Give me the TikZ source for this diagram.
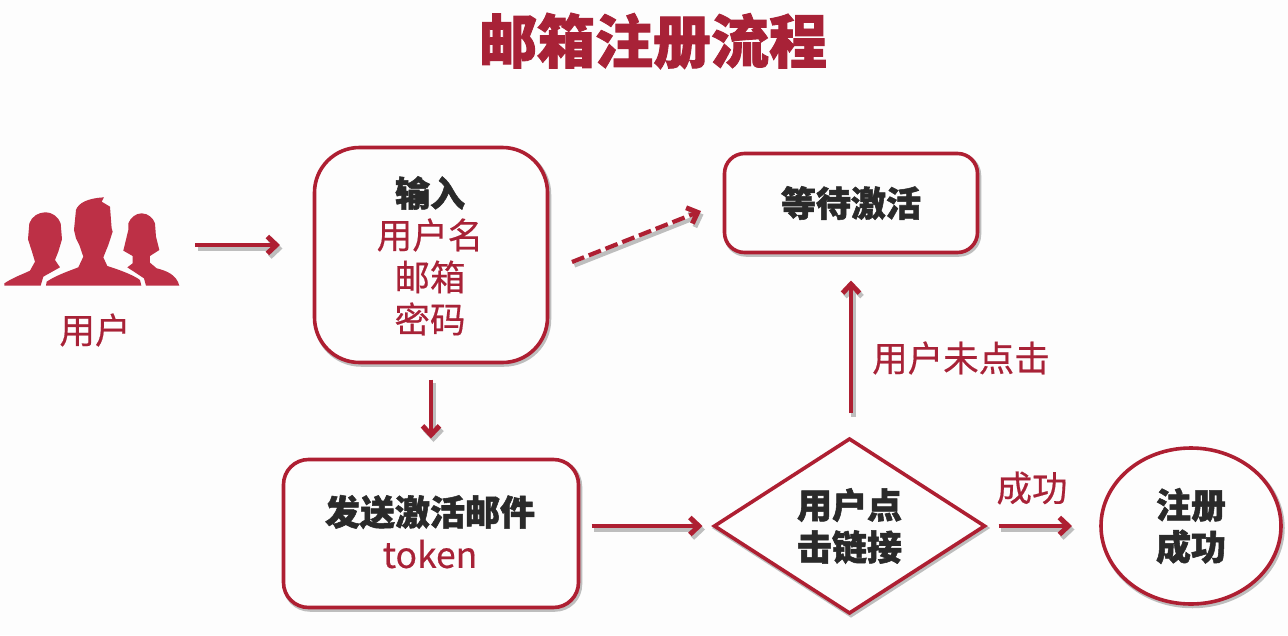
\documentclass[tikz,border=0pt]{standalone}
\usepackage{fontspec}
\setmainfont[BoldFeatures={FakeBold=1.5}]{Noto Sans CJK SC}
\newfontfamily\medfont[FakeBold=0.5]{Noto Sans CJK SC}
\usetikzlibrary{arrows.meta,shapes.geometric,calc}
\definecolor{lred}{HTML}{AE1F32}
\definecolor{tred}{HTML}{A82237}
\definecolor{ired}{HTML}{BD3046}
\definecolor{dk}{HTML}{2A2A2A}
\definecolor{bg}{HTML}{FDFDFD}
\definecolor{sh}{HTML}{BEBEBE}
\tikzset{
  x=1pt,y=-1pt,
  softedge/.style={preaction={draw=sh,line width=4.5pt,transform canvas={shift={(1.5pt,-2pt)}}}},
  boxnode/.style={draw=lred,line width=3.6pt,fill=bg,rounded corners=#1,inner sep=0pt,outer sep=0pt,align=center,softedge},
  lbl/.style={text=tred,font=\medfont\fontsize{35.5}{41}\selectfont,inner sep=0pt},
  hd/.style={text=dk,font=\fontsize{35}{42}\selectfont\bfseries},
  con/.style={draw=lred,line width=4.2pt,-{Straight Barb[length=9pt,width=17pt,line width=5pt]},
    preaction={draw=sh,line width=4.2pt,-{Straight Barb[length=9pt,width=17pt,line width=5pt]},transform canvas={shift={(2.5pt,-3.5pt)}}}},
  person/.style={fill=ired,draw=none}
}
\begin{document}
\begin{tikzpicture}
\useasboundingbox (0,0) rectangle (1288,635);
\fill[bg] (0,0) rectangle (1288,635);
\node[inner sep=0pt,text=tred,font=\fontsize{58}{60}\selectfont\bfseries] (title) at (653,41) {邮箱注册流程};
% user icon
\begin{scope}[shift={(0,180)},x=0.3333pt,y=-0.3333pt]
\path[person] (13,317) -- (13,310) .. controls (40,292) and (70,282) .. (90,272) -- (105,245) -- (96,215) -- (84,178) -- (88,130) .. controls (95,110) and (115,97) .. (135,97) .. controls (160,97) and (175,112) .. (182,130) -- (186,178) -- (175,215) -- (165,240) -- (180,262) -- (130,290) -- (122,317) -- cycle;
\path[person] (138,317) -- (140,305) .. controls (170,285) and (210,272) .. (235,262) -- (250,230) -- (238,195) -- (228,175) -- (222,150) -- (228,90) .. controls (235,70) and (260,55) .. (312,52) -- (305,65) -- (330,80) -- (335,145) -- (338,155) -- (325,195) -- (310,232) -- (322,258) .. controls (360,270) and (400,285) .. (420,300) -- (424,317) -- cycle;
\path[person] (438,317) -- (432,295) -- (382,262) -- (398,250) -- (398,228) -- (370,212) -- (385,150) -- (385,130) .. controls (392,112) and (408,100) .. (425,100) .. controls (445,100) and (460,115) .. (465,130) -- (468,170) -- (478,210) -- (450,228) -- (450,248) -- (470,265) .. controls (500,272) and (530,285) .. (538,317) -- cycle;
\end{scope}
\node[minimum width=176pt,minimum height=90pt,inner sep=0pt,outer sep=0pt] (icon) at (92,245) {};
\node[lbl] (userlbl) at (95,330) {用户};
% nodes
\node[boxnode=45pt,minimum width=233pt,minimum height=215pt] (input) at (431,255) {};
\node[hd,inner sep=0pt] (inputa) at (430,193) {输入};
\node[lbl] (inputb) at (430,235) {用户名};
\node[lbl] (inputc) at (430,277) {邮箱};
\node[lbl] (inputd) at (430,319) {密码};
\node[boxnode=20pt,minimum width=253pt,minimum height=99pt,hd] (wait) at (851,203) {等待激活};
\node[boxnode=25pt,minimum width=295pt,minimum height=148pt] (send) at (431,533.5) {};
\node[hd,inner sep=0pt] (senda) at (430,512) {发送激活邮件};
\node[lbl] (sendb) at (430,554) {token};
\node[diamond,aspect=1.55,draw=lred,line width=3.6pt,fill=bg,inner sep=0pt,outer sep=0pt,minimum width=270pt,minimum height=174pt,align=center,softedge,hd,font=\fontsize{35}{42}\selectfont\bfseries] (dia) at (849.5,526) {用户点\\击链接};
\node[ellipse,draw=lred,line width=3.6pt,fill=bg,inner sep=0pt,outer sep=0pt,minimum width=180pt,minimum height=156pt,align=center,softedge,hd,font=\fontsize{35}{42}\selectfont\bfseries] (done) at (1191,526) {注册\\成功};
\node[lbl] (nclick) at (961,358) {用户未点击};
\node[lbl] (ok) at (1032,488) {成功};
% connectors
\coordinate (ds) at (572,262);
\coordinate (de) at (701,211);
\draw[con,shorten <=15pt,shorten >=34.5pt] (icon.east) -- (icon.east -| input.west);
\draw[con,dashed,dash pattern=on 13pt off 5pt] (ds) -- (de);
\draw[con,shorten <=17pt,shorten >=21pt] (input.south) -- (send.north);
\draw[con,shorten <=13pt,shorten >=12pt] (send.east |- dia.west) -- (dia.west);
\draw[con,shorten <=26pt,shorten >=28pt] (dia.north -| wait.south) -- (wait.south);
\draw[con,shorten <=14pt,shorten >=29pt] (dia.east) -- (done.west);
\end{tikzpicture}
\end{document}
